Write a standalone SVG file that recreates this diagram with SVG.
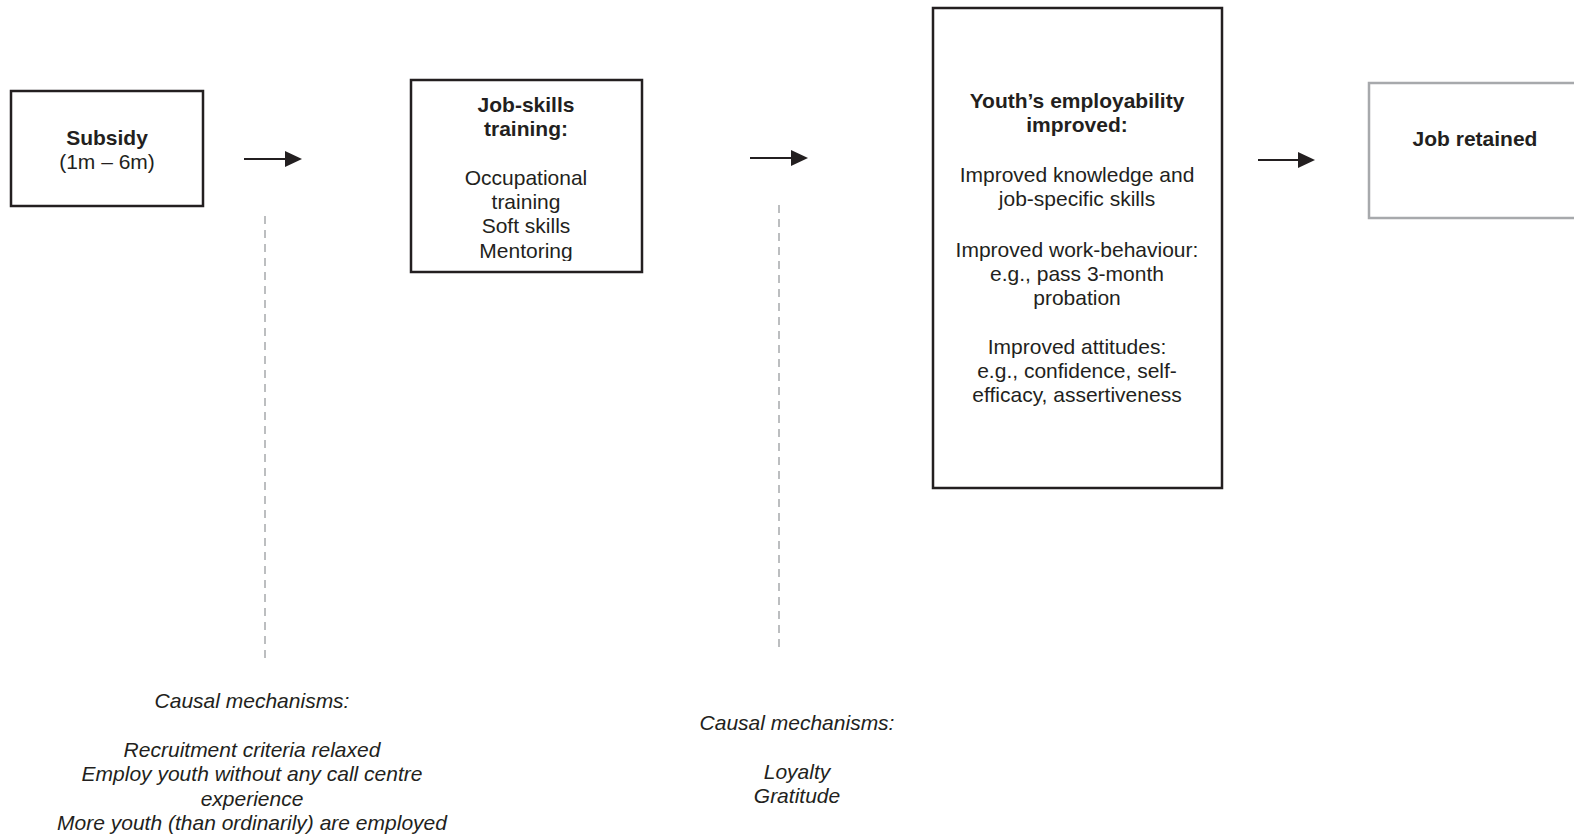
<svg xmlns="http://www.w3.org/2000/svg" width="1574" height="840" viewBox="0 0 1574 840">
  <style>
    .box { fill: #ffffff; stroke: #231f20; stroke-width: 2.5; }
    .box-light { fill: #ffffff; stroke: #a7a9ac; stroke-width: 2.5; }
    text { font-family: "Liberation Sans", Arial, sans-serif; font-size: 21px; fill: #231f20; text-anchor: middle; }
    .b { font-weight: bold; }
    .i { font-style: italic; }
    .arrow { stroke: #231f20; stroke-width: 2; fill: none; }
    .head { fill: #231f20; }
    .dash { stroke: #bcbec0; stroke-width: 2; stroke-dasharray: 8 6; fill: none; }
  </style>
  <defs>
    <clipPath id="clip-training">
      <rect x="411" y="80" width="231" height="181"/>
    </clipPath>
  </defs>

  <rect width="1574" height="840" fill="#ffffff"/>

  <!-- connectors: arrows between stages and dashed guide lines -->
  <g id="connectors">
    <line class="arrow" x1="244" y1="159" x2="287" y2="159"/>
    <polygon class="head" points="285,151 302,159 285,167"/>
    <line class="arrow" x1="750" y1="158" x2="793" y2="158"/>
    <polygon class="head" points="791,150 808,158 791,166"/>
    <line class="arrow" x1="1258" y1="160" x2="1300" y2="160"/>
    <polygon class="head" points="1298,152 1315,160 1298,168"/>
    <line class="dash" x1="265" y1="216" x2="265" y2="660"/>
    <line class="dash" x1="779" y1="205" x2="779" y2="647"/>
  </g>

  <!-- stage 1 -->
  <g id="subsidy">
    <rect class="box" x="11" y="91" width="192" height="115"/>
    <text class="b" x="107" y="145">Subsidy</text>
    <text x="107" y="169">(1m – 6m)</text>
  </g>

  <!-- stage 2 -->
  <g id="job-skills">
    <rect class="box" x="411" y="80" width="231" height="192"/>
    <g clip-path="url(#clip-training)">
      <text class="b" x="526" y="112">Job-skills</text>
      <text class="b" x="526" y="136">training:</text>
      <text x="526" y="185">Occupational</text>
      <text x="526" y="209">training</text>
      <text x="526" y="233">Soft skills</text>
      <text x="526" y="258">Mentoring</text>
    </g>
  </g>

  <!-- stage 3 -->
  <g id="employability">
    <rect class="box" x="933" y="8" width="289" height="480"/>
    <text class="b" x="1077" y="108">Youth’s employability</text>
    <text class="b" x="1077" y="132">improved:</text>
    <text x="1077" y="182">Improved knowledge and</text>
    <text x="1077" y="206">job-specific skills</text>
    <text x="1077" y="257">Improved work-behaviour:</text>
    <text x="1077" y="281">e.g., pass 3-month</text>
    <text x="1077" y="305">probation</text>
    <text x="1077" y="354">Improved attitudes:</text>
    <text x="1077" y="378">e.g., confidence, self-</text>
    <text x="1077" y="402">efficacy, assertiveness</text>
  </g>

  <!-- stage 4 -->
  <g id="job-retained">
    <rect class="box-light" x="1369" y="83" width="220" height="135"/>
    <text class="b" x="1475" y="146">Job retained</text>
  </g>

  <!-- mechanism notes -->
  <g id="mechanisms-1">
    <text class="i" x="252" y="708">Causal mechanisms:</text>
    <text class="i" x="252" y="757">Recruitment criteria relaxed</text>
    <text class="i" x="252" y="781">Employ youth without any call centre</text>
    <text class="i" x="252" y="806">experience</text>
    <text class="i" x="252" y="830">More youth (than ordinarily) are employed</text>
  </g>

  <g id="mechanisms-2">
    <text class="i" x="797" y="730">Causal mechanisms:</text>
    <text class="i" x="797" y="779">Loyalty</text>
    <text class="i" x="797" y="803">Gratitude</text>
  </g>
</svg>
